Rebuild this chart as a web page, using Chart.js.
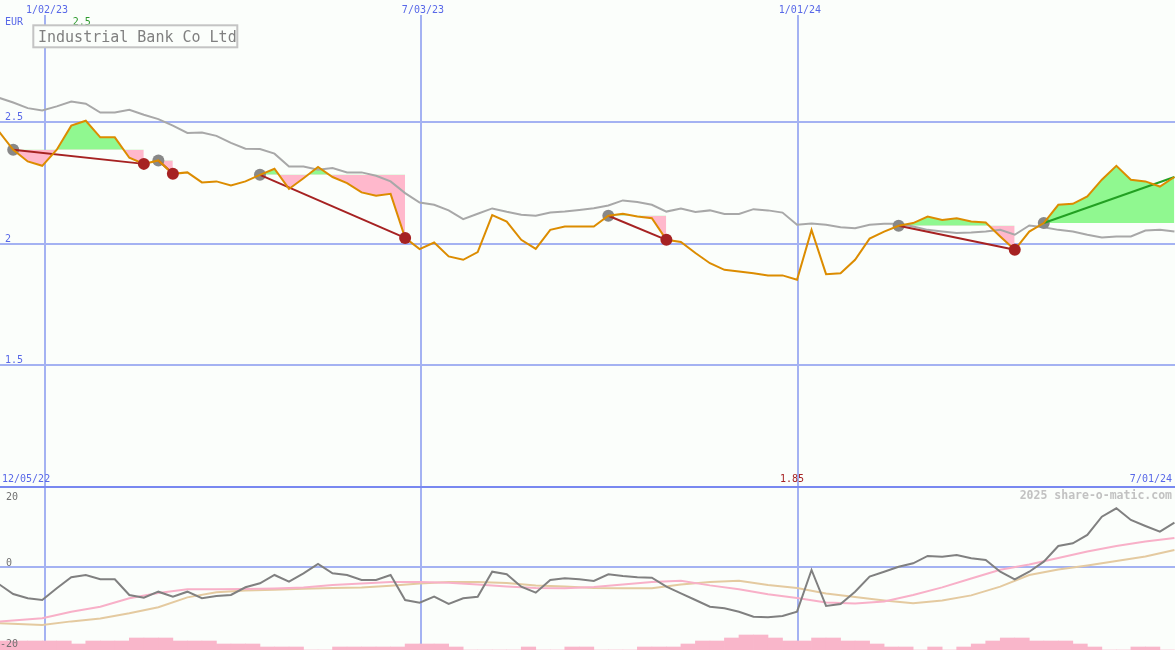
<!DOCTYPE html>
<html>
<head>
<meta charset="utf-8">
<title>Industrial Bank Co Ltd</title>
<script src="https://cdn.jsdelivr.net/npm/chart.js@4.4.1/dist/chart.umd.min.js"></script>
<style>
  html, body { margin: 0; padding: 0; background: #fbfefb; }
  #wrap { position: relative; width: 1175px; height: 650px; overflow: hidden; }
  canvas { position: absolute; left: 0; }
  #price { top: 0; }
  #osc { top: 487px; }
</style>
</head>
<body>
<div id="wrap">
  <canvas id="price" width="1175" height="487"></canvas>
  <canvas id="osc" width="1175" height="163"></canvas>
</div>
<script>
// weekly data, first value is week -3 (weeks counted from the start of 2023)
var firstWeek = -3;
var price = [2.461, 2.385, 2.337, 2.319, 2.385, 2.484, 2.504, 2.436, 2.436, 2.352,
    2.327, 2.341, 2.286, 2.292, 2.251, 2.255, 2.238, 2.255, 2.282, 2.307,
    2.224, 2.268, 2.314, 2.273, 2.248, 2.210, 2.196, 2.204, 2.023, 1.977,
    2.004, 1.947, 1.933, 1.965, 2.117, 2.090, 2.015, 1.978, 2.056, 2.070,
    2.070, 2.070, 2.114, 2.122, 2.111, 2.104, 2.015, 2.006, 1.961, 1.919,
    1.892, 1.885, 1.878, 1.869, 1.869, 1.851, 2.056, 1.874, 1.878, 1.933,
    2.020, 2.049, 2.073, 2.084, 2.111, 2.097, 2.104, 2.090, 2.086, 2.029,
    1.974, 2.049, 2.084, 2.159, 2.163, 2.193, 2.262, 2.319, 2.262, 2.255,
    2.234, 2.273];
var average = [2.599, 2.579, 2.556, 2.546, 2.563, 2.583, 2.574, 2.538, 2.538, 2.549,
    2.529, 2.511, 2.484, 2.454, 2.456, 2.442, 2.413, 2.389, 2.388, 2.369,
    2.316, 2.316, 2.303, 2.310, 2.292, 2.292, 2.278, 2.255, 2.207, 2.168,
    2.159, 2.136, 2.100, 2.122, 2.144, 2.130, 2.118, 2.114, 2.127, 2.131,
    2.138, 2.145, 2.156, 2.177, 2.170, 2.159, 2.131, 2.144, 2.129, 2.136,
    2.121, 2.121, 2.141, 2.136, 2.127, 2.077, 2.082, 2.077, 2.067, 2.063,
    2.077, 2.081, 2.081, 2.070, 2.056, 2.049, 2.043, 2.045, 2.049, 2.056,
    2.036, 2.074, 2.067, 2.056, 2.049, 2.036, 2.025, 2.029, 2.029, 2.053,
    2.056, 2.049];
var momentum = [-4.72, -7.5, -8.69, -9.17, -5.92, -2.86, -2.22, -3.42, -3.42, -7.78,
    -8.53, -6.86, -8.25, -6.86, -8.69, -8.06, -7.78, -5.64, -4.53, -2.22,
    -4.08, -1.75, 0.83, -1.75, -2.22, -3.61, -3.61, -2.22, -9.17, -9.92,
    -8.25, -10.28, -8.69, -8.25, -1.31, -2.03, -5.47, -7.14, -3.61, -3.14,
    -3.42, -3.89, -2.03, -2.5, -2.86, -2.97, -5.47, -7.31, -9.17, -11.03,
    -11.47, -12.42, -13.81, -13.97, -13.61, -12.42, -0.83, -10.83, -10.28, -6.86,
    -2.69, -1.31, 0.08, 1.03, 3.06, 2.86, 3.33, 2.42, 1.94, -1.31,
    -3.42, -1.31, 1.47, 5.83, 6.58, 8.89, 13.97, 16.31, 13.06, 11.39,
    9.81, 12.31];
var signalWeeks = [-3, 0, 2, 4, 6, 8, 10, 12, 14, 16, 18, 20, 22, 24, 26, 28, 30, 32, 34, 36,
    38, 40, 42, 44, 46, 48, 50, 52, 54, 56, 58, 60, 62, 64, 66, 68, 70, 72, 74, 76, 78];
var signalFast = [-15.19, -14.25, -12.42, -11.03, -8.69, -7.22, -6.19, -6.19, -6.11, -5.97,
    -5.69, -5.0, -4.58, -4.17, -4.17, -4.36, -4.86, -5.42, -5.83, -5.92,
    -5.56, -4.86, -4.17, -3.81, -5.11, -6.19, -7.56, -8.61, -9.86, -10.17,
    -9.58, -7.78, -5.67, -3.19, -0.75, 0.69, 2.5, 4.31, 5.83, 7.08, 8.06];
var signalSlow = [-15.64, -16.11, -15.11, -14.33, -12.86, -11.19, -8.44, -7.03, -6.53, -6.33,
    -6.03, -5.83, -5.67, -5.19, -4.56, -4.19, -4.14, -4.44, -5.17, -5.44,
    -5.83, -5.92, -5.92, -4.89, -4.19, -3.81, -5.03, -5.83, -7.36, -8.36,
    -9.31, -10.08, -9.28, -7.89, -5.47, -2.22, -0.69, 0.42, 1.67, 2.92, 4.72];
// volume blocks, one per week from week -3 to week 77
var volume = [3, 3, 3, 3, 3, 2, 3, 3, 3, 4, 4, 4, 3, 3, 3, 2, 2, 2, 1, 1,
    1, 0, 0, 1, 1, 1, 1, 1, 2, 2, 2, 1, 0, 0, 0, 0, 1, 0, 0, 1,
    1, 0, 0, 0, 1, 1, 1, 2, 3, 3, 4, 5, 5, 4, 3, 3, 4, 4, 3, 3,
    2, 1, 1, 0, 1, 0, 1, 2, 3, 4, 4, 3, 3, 3, 2, 1, 0, 0, 1, 1, 0];
var buyWeeks = [-2, 8, 15, 39, 59, 69];
var sellWeeks = [7, 9, 25, 43, 67]; // last buy is still open
var dateWeeks = [0.19, 26.09, 52.06];
var dateLabels = ["1/02/23", "7/03/23", "1/01/24"];
var priceTicks = [1.5, 2, 2.5];
var momentumTicks = [20, 0, -20];

var xMin = -2.91, xMax = 78.04;
var bg = "#fbfefb";
var gridBlue = "#a4b2f2";
var mono = '"DejaVu Sans Mono", monospace';
var lastWeek = firstWeek + price.length - 1;

function pt(k) { return { x: k, y: price[k - firstWeek] }; }
function span(a, b) {
    var out = [];
    for (var k = a; k <= b; k++) out.push(pt(k));
    return out;
}
function series(values, start) {
    return values.map(function (v, i) { return { x: i + start, y: v }; });
}
function short(v) { return String(Number(v.toFixed(2))); }

function xAxis() {
    return {
        type: "linear", min: xMin, max: xMax, offset: false,
        afterBuildTicks: function (s) { s.ticks = dateWeeks.map(function (v) { return { value: v }; }); },
        ticks: { display: false },
        grid: { color: gridBlue, lineWidth: 2, drawTicks: false, offset: false },
        border: { display: false },
    };
}

var priceSets = [];
buyWeeks.forEach(function (b, i) {
    var open = i >= sellWeeks.length;
    var s = open ? lastWeek : sellWeeks[i];
    priceSets.push({
        data: span(b, s), borderColor: "transparent", pointRadius: 0, order: 10,
        fill: { target: { value: price[b - firstWeek] }, above: "#90f890", below: "#ffb8cc" },
    });
    priceSets.push({
        data: [pt(b), pt(s)], borderColor: open ? "#22a022" : "#a62222",
        borderWidth: 2, pointRadius: 0, order: 7,
    });
});
priceSets.push({ data: series(average, firstWeek), borderColor: "#a8a8a8", borderWidth: 2, pointRadius: 0, order: 9 });
priceSets.push({
    data: buyWeeks.map(pt), showLine: false, pointRadius: 6,
    pointBackgroundColor: "#888888", pointBorderWidth: 0, order: 8,
});
priceSets.push({ data: series(price, firstWeek), borderColor: "#dc8c00", borderWidth: 2, pointRadius: 0, order: 5 });
priceSets.push({
    data: sellWeeks.map(pt), showLine: false, pointRadius: 6,
    pointBackgroundColor: "#a62222", pointBorderWidth: 0, order: 4,
});

var priceText = {
    id: "priceText",
    afterDraw: function (chart) {
        var c = chart.ctx, x = chart.scales.x, y = chart.scales.y;
        c.save();
        c.font = "10px " + mono;
        c.fillStyle = "#5868e8";
        c.textAlign = "left";
        priceTicks.forEach(function (v) { c.fillText(String(v), 5, y.getPixelForValue(v) - 2); });
        c.fillText("EUR", 5, 25);
        c.fillText("12/05/22", 2, 482);
        c.textAlign = "center";
        dateWeeks.forEach(function (w, i) { c.fillText(dateLabels[i], x.getPixelForValue(w) + 2, 13); });
        c.textAlign = "right";
        c.fillText("7/01/24", 1172, 482);

        var hi = price.indexOf(Math.max.apply(null, price));
        var lo = price.indexOf(Math.min.apply(null, price));
        c.textAlign = "center";
        c.fillStyle = "#2c9a2c";
        c.fillText(short(price[hi]), x.getPixelForValue(hi + firstWeek) - 4, 25);
        c.fillStyle = "#a62222";
        c.fillText(short(price[lo]), x.getPixelForValue(lo + firstWeek) - 5, 482);

        c.fillStyle = bg;
        c.fillRect(33, 25, 204, 22);
        c.strokeStyle = "#c4c4c4";
        c.lineWidth = 2;
        c.strokeRect(33.3, 25.3, 204, 22);
        c.font = "15px " + mono;
        c.fillStyle = "#808080";
        c.textAlign = "left";
        c.fillText("Industrial Bank Co Ltd", 38, 42);

        c.fillStyle = "#7888f0";
        c.fillRect(0, 486, 1175, 1);
        c.restore();
    },
};

new Chart(document.getElementById("price").getContext("2d"), {
    type: "line",
    data: { datasets: priceSets },
    options: {
        responsive: false, animation: false, events: [],
        layout: { autoPadding: false, padding: { top: 15, left: 0, right: 0, bottom: 0 } },
        plugins: { legend: { display: false }, tooltip: { enabled: false } },
        scales: {
            x: xAxis(),
            y: {
                min: 1, max: 2.9384,
                afterBuildTicks: function (s) { s.ticks = priceTicks.map(function (v) { return { value: v }; }); },
                ticks: { display: false },
                grid: { color: gridBlue, lineWidth: 2, drawTicks: false },
                border: { display: false },
            },
        },
    },
    plugins: [priceText],
});

var oscText = {
    id: "oscText",
    afterDraw: function (chart) {
        var c = chart.ctx, y = chart.scales.y, a = chart.chartArea;
        c.save();
        c.fillStyle = "#7888f0";
        c.fillRect(0, 0, 1175, 1);
        c.font = "10px " + mono;
        c.fillStyle = "#707070";
        c.textAlign = "left";
        momentumTicks.forEach(function (v) {
            var py = v > 0 ? a.top + 13 : v < 0 ? a.bottom - 3 : y.getPixelForValue(v) - 1;
            c.fillText(String(v), v < 0 ? 0 : 6, py);
        });
        c.font = "bold 11.5px " + mono;
        c.fillStyle = "#c2c2c2";
        c.textAlign = "right";
        c.fillText("2025 share-o-matic.com", 1172, 12);
        c.restore();
    },
};

new Chart(document.getElementById("osc").getContext("2d"), {
    type: "line",
    data: {
        datasets: [
            {
                type: "bar", data: series(volume, firstWeek + 0.5), yAxisID: "yv",
                backgroundColor: "#f9b6ca", borderWidth: 0,
                barPercentage: 1, categoryPercentage: 1, order: 10,
            },
            { data: signalSlow.map(function (v, i) { return { x: signalWeeks[i], y: v }; }), borderColor: "#e4caa0", borderWidth: 2, pointRadius: 0, order: 8 },
            { data: signalFast.map(function (v, i) { return { x: signalWeeks[i], y: v }; }), borderColor: "#f8b0c8", borderWidth: 2, pointRadius: 0, order: 7 },
            { data: series(momentum, firstWeek), borderColor: "#808080", borderWidth: 2, pointRadius: 0, order: 5 },
        ],
    },
    options: {
        responsive: false, animation: false, events: [],
        layout: { autoPadding: false, padding: 0 },
        plugins: { legend: { display: false }, tooltip: { enabled: false } },
        scales: {
            x: xAxis(),
            y: {
                min: -23.06, max: 22.22,
                afterBuildTicks: function (s) { s.ticks = [{ value: 0 }]; },
                ticks: { display: false },
                grid: { color: gridBlue, lineWidth: 2, drawTicks: false },
                border: { display: false },
            },
            yv: { display: false, min: 0, max: 54.33 },
        },
    },
    plugins: [oscText],
});
</script>
</body>
</html>
